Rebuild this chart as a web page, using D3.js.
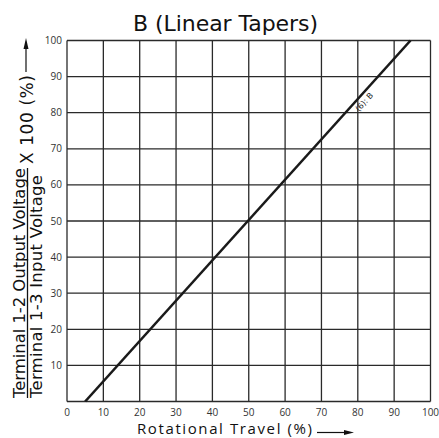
<!DOCTYPE html>
<html>
<head>
<meta charset="utf-8">
<script src="https://cdn.jsdelivr.net/npm/d3@7"></script>
<style>
body { margin:0; background:#fff; }
svg { display:block; }
</style>
</head>
<body>
<svg id="graph"></svg>
<script>
// taper data (rotational travel %, output %)
var travel = [5, 94.5];
var output = [0, 100];
var xTicks = [0, 10, 20, 30, 40, 50, 60, 70, 80, 90, 100];
var yTicks = [10, 20, 30, 40, 50, 60, 70, 80, 90, 100];
var gridVals = [0, 10, 20, 30, 40, 50, 60, 70, 80, 90, 100];
var curveLabel = "(6): B";

var screen = {width: 439, height: 438};
var svg = d3.select("#graph")
  .attr("width", screen.width)
  .attr("height", screen.height);

var xScale = d3.scaleLinear().domain([0, 100]).range([67, 430.5]);
var yScale = d3.scaleLinear().domain([0, 100]).range([401.5, 40.5]);

// grid
svg.append("g").selectAll("line.v")
  .data(gridVals).enter().append("line")
  .attr("x1", function(d) { return xScale(d); })
  .attr("x2", function(d) { return xScale(d); })
  .attr("y1", yScale(0)).attr("y2", yScale(100))
  .attr("stroke", "#2a2a2a").attr("stroke-width", 1.3);

svg.append("g").selectAll("line.h")
  .data(gridVals).enter().append("line")
  .attr("y1", function(d) { return yScale(d); })
  .attr("y2", function(d) { return yScale(d); })
  .attr("x1", xScale(0)).attr("x2", xScale(100))
  .attr("stroke", "#2a2a2a").attr("stroke-width", 1.3);

// tick labels
svg.append("g").selectAll("text")
  .data(xTicks).enter().append("text")
  .attr("x", function(d) { return xScale(d); })
  .attr("y", 416)
  .attr("text-anchor", "middle")
  .attr("font-family", "Open Sans")
  .attr("font-size", 10)
  .attr("fill", "#333")
  .text(function(d) { return d; });

svg.append("g").selectAll("text")
  .data(yTicks).enter().append("text")
  .attr("x", 62)
  .attr("y", function(d) { return yScale(d) + 3.5; })
  .attr("text-anchor", "end")
  .attr("font-family", "Open Sans")
  .attr("font-size", 10)
  .attr("fill", "#333")
  .text(function(d) { return d; });

// taper line
var pts = travel.map(function(t, i) { return [t, output[i]]; });
var line = d3.line()
  .x(function(d) { return xScale(d[0]); })
  .y(function(d) { return yScale(d[1]); });
svg.append("path")
  .attr("d", line(pts))
  .attr("fill", "none")
  .attr("stroke", "#1a1a1a")
  .attr("stroke-width", 2.6);

var ang = Math.atan2(yScale(output[0]) - yScale(output[1]), xScale(travel[1]) - xScale(travel[0])) * 180 / Math.PI;
svg.append("text")
  .attr("transform", "translate(" + xScale(80.3) + "," + yScale(80.2) + ") rotate(" + (-ang) + ")")
  .attr("font-family", "DejaVu Sans")
  .attr("font-size", 8)
  .attr("fill", "#222")
  .text(curveLabel);

// title
svg.append("text")
  .attr("x", 225.5).attr("y", 31)
  .attr("text-anchor", "middle")
  .attr("font-family", "DejaVu Sans")
  .attr("font-size", 22)
  .attr("textLength", 185)
  .attr("fill", "#111")
  .text("B (Linear Tapers)");

// x label + arrow
svg.append("text")
  .attr("x", 137).attr("y", 434)
  .attr("font-family", "Open Sans")
  .attr("font-size", 15)
  .attr("textLength", 175)
  .attr("fill", "#111")
  .text("Rotational Travel (%)");
svg.append("line")
  .attr("x1", 317).attr("x2", 345).attr("y1", 432.5).attr("y2", 432.5)
  .attr("stroke", "#111").attr("stroke-width", 1.2);
svg.append("path")
  .attr("d", "M344,430 L354,432.5 L344,435 Z")
  .attr("fill", "#111");

// y label (fraction)
var yl = svg.append("g").attr("transform", "translate(0,398) rotate(-90)");
yl.append("text")
  .attr("x", 0).attr("y", 24.5)
  .attr("font-family", "DejaVu Sans")
  .attr("font-size", 16.5)
  .attr("textLength", 230)
  .attr("fill", "#111")
  .text("Terminal 1-2 Output Voltage");
yl.append("line")
  .attr("x1", 0).attr("x2", 230).attr("y1", 27.5).attr("y2", 27.5)
  .attr("stroke", "#111").attr("stroke-width", 1.3);
yl.append("text")
  .attr("x", 0).attr("y", 41.5)
  .attr("font-family", "DejaVu Sans")
  .attr("font-size", 16.5)
  .attr("textLength", 223)
  .attr("fill", "#111")
  .text("Terminal 1-3 Input Voltage");
yl.append("text")
  .attr("x", 234).attr("y", 33)
  .attr("font-family", "DejaVu Sans")
  .attr("font-size", 17)
  .attr("textLength", 89)
  .attr("fill", "#111")
  .text("X 100 (%)");
yl.append("line")
  .attr("x1", 326).attr("x2", 352).attr("y1", 26).attr("y2", 26)
  .attr("stroke", "#111").attr("stroke-width", 1.2);
yl.append("path")
  .attr("d", "M349,23.5 L360,26 L349,28.5 Z")
  .attr("fill", "#111");
</script>
</body>
</html>
